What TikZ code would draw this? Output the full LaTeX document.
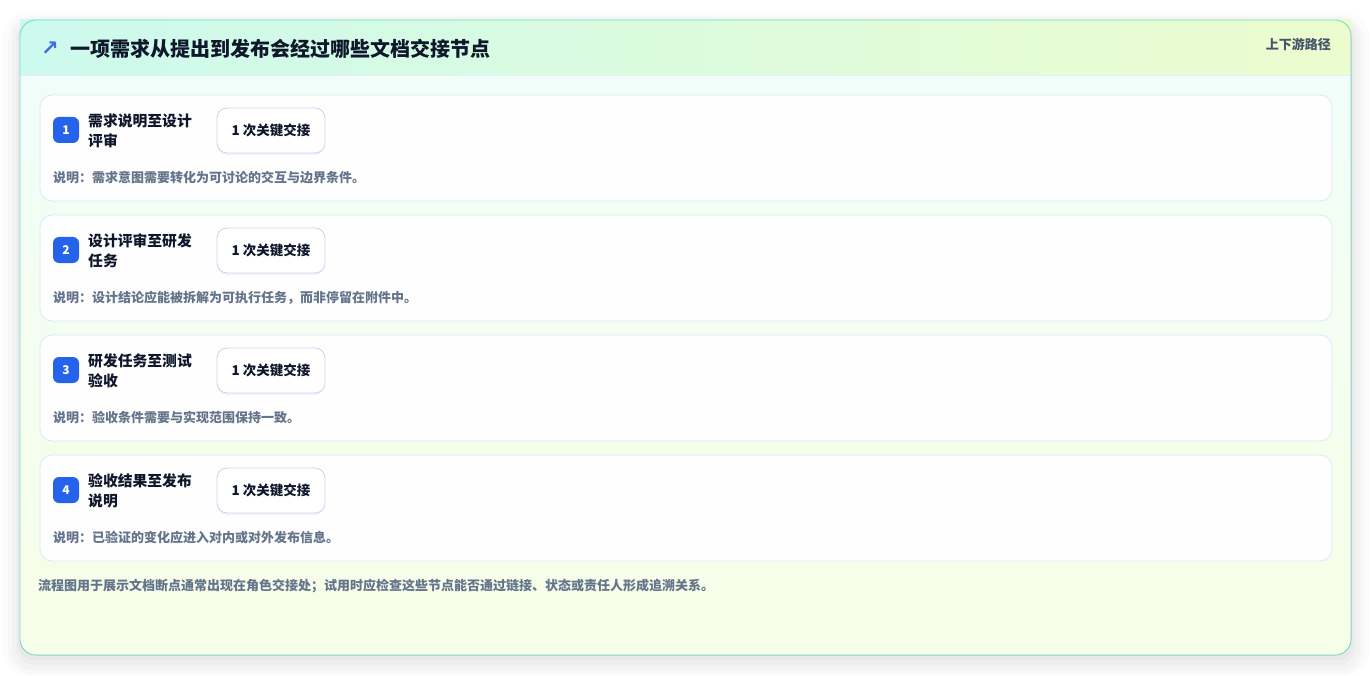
\documentclass[tikz,border=0pt]{standalone}
\usepackage{fontspec}
\setmainfont{Noto Sans CJK SC}
\newfontfamily\symfont{DejaVu Sans}
\usetikzlibrary{
    positioning,
    calc,
    shadows
}
\definecolor{panelline}{RGB}{118, 222, 203}
\definecolor{headleft}{RGB}{204, 250, 238}
\definecolor{headright}{RGB}{236, 252, 206}
\definecolor{bodytop}{RGB}{240, 253, 250}
\definecolor{bodybottom}{RGB}{247, 254, 231}
\definecolor{cardline}{RGB}{219, 232, 246}
\definecolor{pillline}{RGB}{200, 214, 240}
\definecolor{stepblue}{RGB}{37, 99, 235}
\definecolor{iconblue}{RGB}{59, 110, 230}
\definecolor{inkdark}{RGB}{15, 23, 42}
\definecolor{inkgray}{RGB}{100, 116, 139}
\definecolor{hintgray}{RGB}{71, 85, 105}

\begin{document}
\begin{tikzpicture}[
        x=1pt, y=-1pt,
        card/.style={draw=cardline, line width=0.8pt, fill=white, fill opacity=0.96, text opacity=1, rounded corners=12pt, minimum width=1292pt, minimum height=106pt, inner sep=0pt},
        badge/.style={fill=stepblue, rounded corners=6pt, minimum size=26pt, inner sep=0pt, text=white, font=\bfseries\fontsize{12}{14}\selectfont},
        steptitle/.style={anchor=west, align=left, inner sep=0pt, text=inkdark, font=\bfseries\fontsize{14.8}{20}\selectfont},
        pill/.style={draw=pillline, line width=0.8pt, fill=white, rounded corners=10pt, minimum width=108pt, minimum height=45pt, inner sep=0pt, text=inkdark, font=\bfseries\fontsize{13.5}{16}\selectfont, drop shadow={shadow xshift=0pt, shadow yshift=-2pt, opacity=0.045, fill=stepblue!40!black}},
        note/.style={anchor=west, inner sep=0pt, text=inkgray, font=\bfseries\fontsize{13}{15}\selectfont}
    ]
        \useasboundingbox[fill=white] (0,0) rectangle (1372,676);

        % Soft shadow under the panel
        \fill[black, opacity=0.012, rounded corners=28pt] (2,12) rectangle (1370,676);
        \fill[black, opacity=0.015, rounded corners=24pt] (8,16) rectangle (1364,674);
        \fill[black, opacity=0.018, rounded corners=20pt] (12,18) rectangle (1360,670);
        \fill[black, opacity=0.02, rounded corners=18pt] (16,20) rectangle (1356,665);
        \fill[black, opacity=0.025, rounded corners=16pt] (18,21) rectangle (1353,660);

        % Panel and header band
        \fill[top color=bodytop, bottom color=bodybottom, rounded corners=16pt] (20,20) rectangle (1351,655);
        \fill[left color=headleft, right color=headright] (20,20) rectangle (1351,75);
        \draw[cardline!70, line width=0.8pt] (20,75) -- (1351,75);
        \draw[panelline, line width=0.9pt, rounded corners=16pt] (20,20) rectangle (1351,655);

        % Header texts
        \node[inner sep=0pt, text=iconblue, font=\symfont\bfseries\fontsize{21}{21}\selectfont] (icon) at (50,49) {↗};
        \node[anchor=west, inner sep=0pt, text=inkdark, font=\bfseries\fontsize{20}{22}\selectfont] (heading) at (70,49) {一项需求从提出到发布会经过哪些文档交接节点};
        \node[anchor=east, inner sep=0pt, text=hintgray, font=\bfseries\fontsize{13}{15}\selectfont] (tag) at (1331,44) {上下游路径};

        % Step 1
        \node[card] (card1) at (686,148) {};
        \node[badge] (badge1) at (66,130) {1};
        \node[steptitle] (title1) at (88,131) {需求说明至设计\\评审};
        \node[pill] (pill1) at (271,130.5) {1 次关键交接};
        \node[note] (note1) at (53,178) {说明：需求意图需要转化为可讨论的交互与边界条件。};

        % Step 2
        \node[card] (card2) at (686,268) {};
        \node[badge] (badge2) at (66,250) {2};
        \node[steptitle] (title2) at (88,251) {设计评审至研发\\任务};
        \node[pill] (pill2) at (271,250.5) {1 次关键交接};
        \node[note] (note2) at (53,298) {说明：设计结论应能被拆解为可执行任务，而非停留在附件中。};

        % Step 3
        \node[card] (card3) at (686,388) {};
        \node[badge] (badge3) at (66,370) {3};
        \node[steptitle] (title3) at (88,371) {研发任务至测试\\验收};
        \node[pill] (pill3) at (271,370.5) {1 次关键交接};
        \node[note] (note3) at (53,418) {说明：验收条件需要与实现范围保持一致。};

        % Step 4
        \node[card] (card4) at (686,508) {};
        \node[badge] (badge4) at (66,490) {4};
        \node[steptitle] (title4) at (88,491) {验收结果至发布\\说明};
        \node[pill] (pill4) at (271,490.5) {1 次关键交接};
        \node[note] (note4) at (53,538) {说明：已验证的变化应进入对内或对外发布信息。};

        % Footer remark
        \node[note] (footer) at (38,586) {流程图用于展示文档断点通常出现在角色交接处；试用时应检查这些节点能否通过链接、状态或责任人形成追溯关系。};
    \end{tikzpicture}
\end{document}
